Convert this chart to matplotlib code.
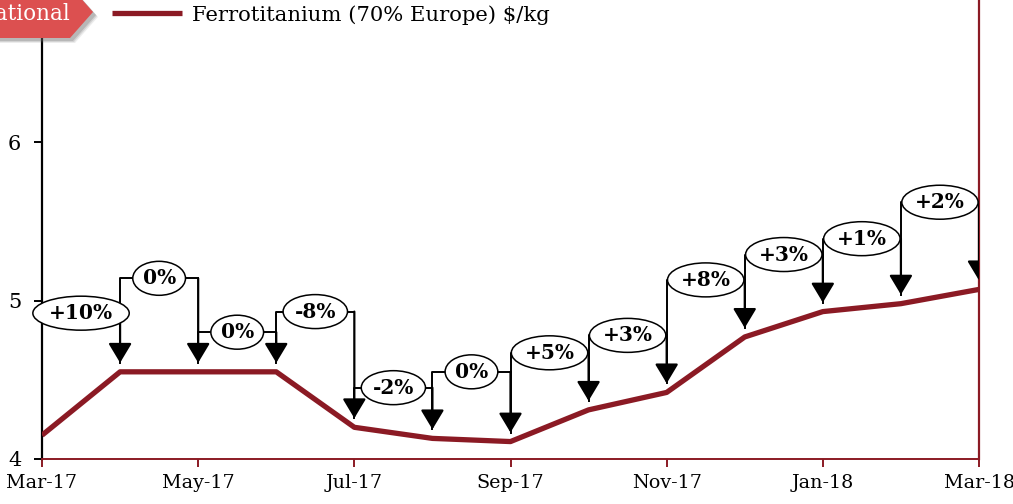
import matplotlib
matplotlib.use("Agg")
import matplotlib.pyplot as plt
from matplotlib.patches import FancyArrowPatch, Polygon

MONTHS = ["Mar-17", "Apr-17", "May-17", "Jun-17", "Jul-17", "Aug-17", "Sep-17",
          "Oct-17", "Nov-17", "Dec-17", "Jan-18", "Feb-18", "Mar-18"]
PRICE = [4.15, 4.55, 4.55, 4.55, 4.20, 4.13, 4.11, 4.31, 4.42, 4.77, 4.93, 4.98, 5.07]
CHANGE = ["+10%", "0%", "0%", "-8%", "-2%", "0%", "+5%", "+3%", "+8%", "+3%", "+1%", "+2%"]
BRACKET = [4.92, 5.14, 4.80, 4.93, 4.45, 4.55, 4.67, 4.78, 5.13, 5.29, 5.39, 5.62]
YTICKS = [4, 5, 6]

W, H = 1013, 504
WINE = "#8b1a24"
BADGE = "#dc5050"
GAP = 0.057  # arrow stops just above the line

plt.rcParams.update({"font.family": "DejaVu Serif"})

fig = plt.figure(figsize=(W / 100, H / 100), dpi=100)
ax = fig.add_axes([42 / W, 45 / H, 937 / W, 475.5 / H])
x = list(range(len(MONTHS)))

ax.plot(x, PRICE, color=WINE, lw=3.8, solid_capstyle="butt", zorder=4,
        label="Ferrotitanium (70% Europe) $/kg")

for i, (lab, top) in enumerate(zip(CHANGE, BRACKET)):
    x0, x1 = x[i], x[i + 1]
    ax.plot([x0, x0, x1], [PRICE[i] + GAP, top, top], color="black", lw=1.4, zorder=3)
    ax.add_patch(FancyArrowPatch((x1, top), (x1, PRICE[i + 1] + GAP),
                                 arrowstyle="-|>,head_length=0.6,head_width=0.36",
                                 mutation_scale=20, shrinkA=0, shrinkB=0,
                                 color="black", lw=1.6, zorder=3))
    ax.text((x0 + x1) / 2, top, lab, ha="center", va="center", fontsize=14.5,
            fontweight="bold", zorder=5,
            bbox=dict(boxstyle="ellipse,pad=0.1", fc="white", ec="black", lw=1.1))

ax.set_xlim(0, 12)
ax.set_ylim(4, 7)
ax.set_xticks(x[::2])
ax.set_xticklabels(MONTHS[::2])
ax.set_yticks(YTICKS)
ax.tick_params(axis="x", colors=WINE, length=6, width=1.4, pad=5, labelsize=13.8,
               labelcolor="black")
ax.tick_params(axis="y", colors="black", length=6, width=1.4, pad=9, labelsize=15)
ax.spines["top"].set_visible(False)
ax.spines["left"].set_linewidth(1.6)
ax.spines["bottom"].set_color(WINE)
ax.spines["bottom"].set_linewidth(1.4)
ax.spines["right"].set_color(WINE)
ax.spines["right"].set_linewidth(1.6)

ax.legend(loc="center left", bbox_to_anchor=(112 / W, 1 - 15 / H),
          bbox_transform=fig.transFigure, frameon=False, fontsize=15.2,
          borderpad=0, borderaxespad=0, handlelength=3.3, handletextpad=0.5)


def px(pts, dx=0, dy=0):
    return [((a + dx) / W, 1 - (b + dy) / H) for a, b in pts]


badge = [(-10, -14), (70, -14), (93, 12), (70, 38), (-10, 38)]
for k, a in enumerate([0.12, 0.18, 0.25]):
    fig.add_artist(Polygon(px(badge, 5 - k, 5 - k), closed=True, fc="#666666",
                           alpha=a, ec="none", transform=fig.transFigure, zorder=9))
fig.add_artist(Polygon(px(badge), closed=True, fc=BADGE, ec="none",
                       transform=fig.transFigure, zorder=10))
fig.text(71 / W, 1 - 20 / H, "International", color="white", fontsize=15.5,
         ha="right", va="baseline", zorder=11)

fig.savefig("out.png", dpi=100)
